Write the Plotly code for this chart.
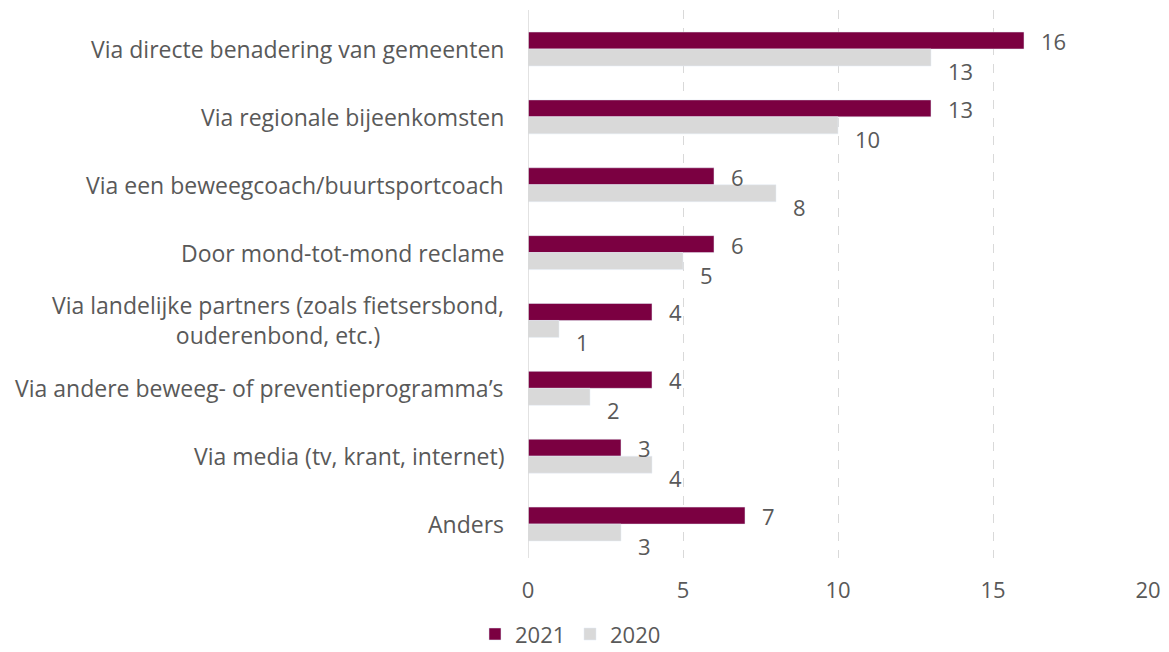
import plotly.graph_objects as go

categories = [
    "Via directe benadering van gemeenten",
    "Via regionale bijeenkomsten",
    "Via een beweegcoach/buurtsportcoach",
    "Door mond-tot-mond reclame",
    "Via landelijke partners (zoals fietsersbond,<br>ouderenbond, etc.)",
    "Via andere beweeg- of preventieprogramma’s",
    "Via media (tv, krant, internet)",
    "Anders",
]
values_2021 = [16, 13, 6, 6, 4, 4, 3, 7]
values_2020 = [13, 10, 8, 5, 1, 2, 4, 3]
x_ticks = [0, 5, 10, 15, 20]

MAROON = "#7B0041"
GRAY = "#D9D9D9"
TXT = "#595959"
FONT = "Open Sans"
FS_LAB = 23
FS_NUM = 22

# page body has an 8px margin; compensate so the plot lands where the reference has it
OFF = 8

fig = go.Figure()
fig.add_trace(go.Bar(y=categories, x=values_2021, name="2021", orientation="h",
                     marker=dict(color=MAROON), offsetgroup="a"))
fig.add_trace(go.Bar(y=categories, x=values_2020, name="2020", orientation="h",
                     marker=dict(color=GRAY), offsetgroup="b"))

annotations = []
for c, v in zip(categories, values_2021):
    annotations.append(dict(x=v, y=c, xref="x", yref="y", text=str(v), showarrow=False,
                            xanchor="left", yanchor="middle", xshift=15, yshift=8,
                            font=dict(size=FS_NUM, color=TXT, family=FONT)))
for c, v in zip(categories, values_2020):
    annotations.append(dict(x=v, y=c, xref="x", yref="y", text=str(v), showarrow=False,
                            xanchor="left", yanchor="middle", xshift=15, yshift=-22,
                            font=dict(size=FS_NUM, color=TXT, family=FONT)))
for c in categories:
    annotations.append(dict(x=0, y=c, xref="paper", yref="y", text=c, showarrow=False,
                            xanchor="right", yanchor="middle", xshift=-22, align="center",
                            font=dict(size=FS_LAB, color=TXT, family=FONT)))

fig.update_layout(
    width=1169 - OFF, height=652 - OFF,
    margin=dict(l=528 - OFF, r=21, t=10 - OFF, b=94, autoexpand=False),
    paper_bgcolor="white", plot_bgcolor="white",
    barmode="group", bargap=0.5, bargroupgap=0,
    font=dict(family=FONT, size=FS_NUM, color=TXT),
    xaxis=dict(range=[0, 20], tickvals=x_ticks, showgrid=True, gridcolor=GRAY,
               griddash="dash", gridwidth=1, zeroline=False, showline=False,
               ticks="outside", ticklen=13, tickcolor="white",
               tickfont=dict(size=FS_NUM, color=TXT, family=FONT)),
    yaxis=dict(autorange="reversed", showticklabels=False, showgrid=False,
               zeroline=False, showline=False),
    shapes=[dict(type="line", xref="x", yref="paper", x0=0, x1=0, y0=0, y1=1,
                 line=dict(color=GRAY, width=1.5))],
    legend=dict(orientation="h", x=-0.0855, xanchor="left", y=-0.139, yanchor="middle",
                font=dict(size=FS_NUM, color=TXT, family=FONT), traceorder="normal",
                itemwidth=30, entrywidth=50),
    annotations=annotations,
    showlegend=True,
)

fig.write_html("out.html")
